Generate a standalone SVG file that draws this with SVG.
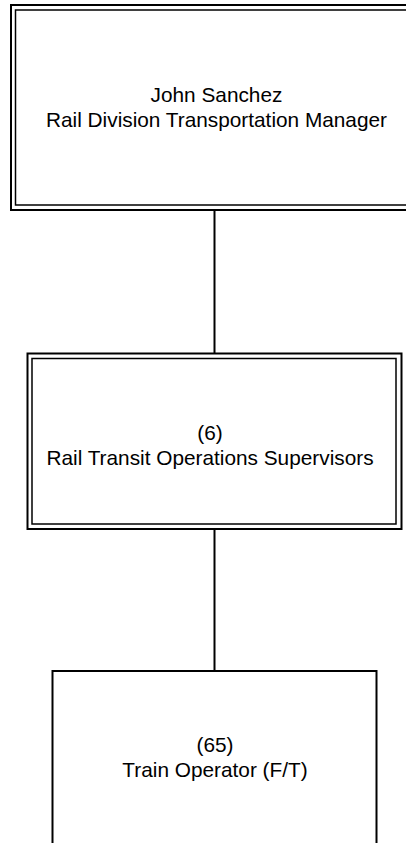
<svg xmlns="http://www.w3.org/2000/svg" width="406" height="843" viewBox="0 0 406 843">
<style>
.outer{fill:none;stroke:#000;stroke-width:2}
.inner{fill:none;stroke:#000;stroke-width:1.5}
.conn{stroke:#000;stroke-width:2;fill:none}
text{font-family:"Liberation Sans",Arial,sans-serif;font-size:20.8px;fill:#000;text-anchor:middle}
</style>
<rect x="0" y="0" width="406" height="843" fill="#fff"/>
<g id="connectors">
<line class="conn" x1="214.5" y1="210" x2="214.5" y2="353.5"/>
<line class="conn" x1="214.5" y1="529" x2="214.5" y2="671"/>
</g>
<g id="node-manager">
<rect class="outer" x="11" y="5" width="420" height="205"/>
<rect class="inner" x="15.5" y="10" width="420" height="195"/>
<text x="216.5" y="101.5">John Sanchez</text>
<text x="216.5" y="126.5">Rail Division Transportation Manager</text>
</g>
<g id="node-supervisors">
<rect class="outer" x="27.5" y="353.5" width="374" height="175.5"/>
<rect class="inner" x="32" y="358.5" width="364" height="165.5"/>
<text x="210" y="440">(6)</text>
<text x="210" y="464.5">Rail Transit Operations Supervisors</text>
</g>
<g id="node-operators">
<rect class="outer" x="52.5" y="671" width="324" height="190"/>
<text x="215" y="752">(65)</text>
<text x="215" y="777">Train Operator (F/T)</text>
</g>
</svg>
